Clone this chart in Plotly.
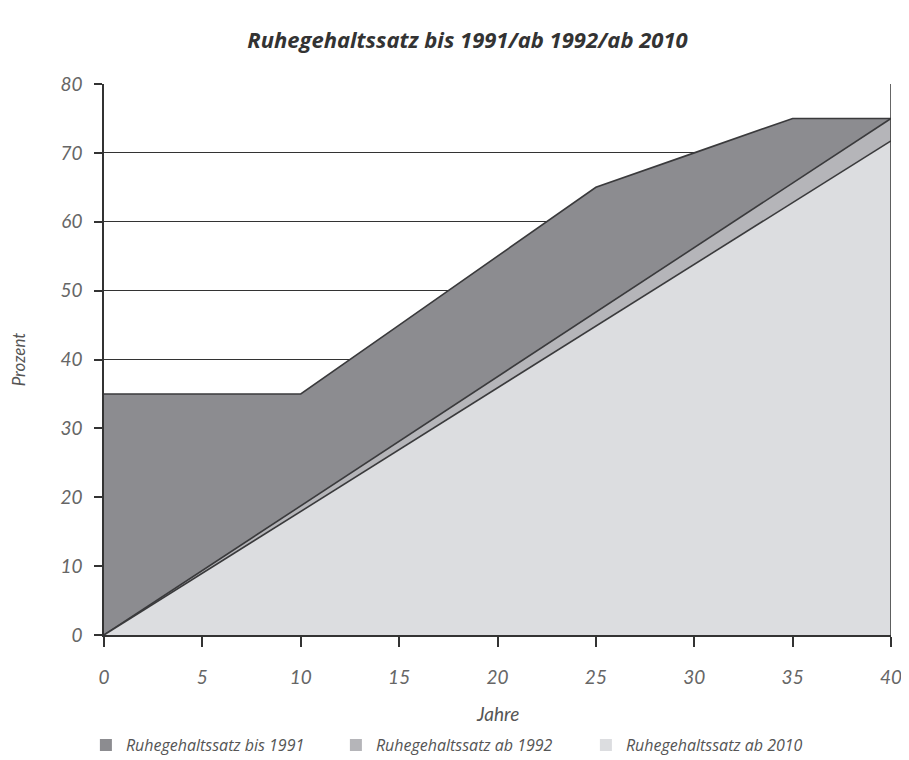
import plotly.graph_objects as go

jahre = [0, 5, 10, 15, 20, 25, 30, 35, 40]
bis_1991 = [35, 35, 35, 45, 55, 65, 70, 75, 75]
ab_1992 = [0, 9.375, 18.75, 28.125, 37.5, 46.875, 56.25, 65.625, 75]
ab_2010 = [0, 8.97, 17.94, 26.91, 35.88, 44.84, 53.81, 62.78, 71.75]

series = [
    ("Ruhegehaltssatz bis 1991", bis_1991, "#8c8c90"),
    ("Ruhegehaltssatz ab 1992", ab_1992, "#b5b5b9"),
    ("Ruhegehaltssatz ab 2010", ab_2010, "#dcdde0"),
]

font_fam = "Lato, 'Open Sans', sans-serif"
wide_fam = "'Open Sans', Lato, sans-serif"

fig = go.Figure()
for name, vals, col in series:
    fig.add_trace(go.Scatter(
        x=jahre, y=vals, name=name, mode="lines",
        fill="tozeroy", fillcolor=col, showlegend=False,
        line=dict(color="#3a3a3c", width=1.6),
    ))
# legend swatches as square boxes
for name, vals, col in series:
    fig.add_trace(go.Bar(x=[None], y=[None], name=name,
                         marker=dict(color=col, line=dict(width=0))))

fig.update_layout(
    width=901, height=752,
    paper_bgcolor="white", plot_bgcolor="white",
    margin=dict(l=96, r=18, t=76, b=125, autoexpand=False),
    title=dict(text="Ruhegehaltssatz bis 1991/ab 1992/ab 2010",
               x=0.51, xanchor="center", y=0.957, yanchor="middle",
               font=dict(family=wide_fam, size=22, color="#333333",
                         style="italic", weight="bold")),
    font=dict(family=font_fam, color="#555555", size=15),
    showlegend=True,
    legend=dict(orientation="h", x=-0.023, xanchor="left", y=-0.2, yanchor="middle",
                font=dict(family=wide_fam, size=16, color="#555555", style="italic"),
                entrywidth=205, entrywidthmode="pixels",
                itemwidth=30, traceorder="normal", tracegroupgap=0),
    annotations=[dict(text="Jahre", xref="paper", yref="paper", x=0.5, y=-0.143,
                      xanchor="center", yanchor="middle", showarrow=False,
                      font=dict(family=font_fam, size=19, color="#555555", style="italic"))],
)

fig.update_xaxes(
    range=[0, 40], tickvals=jahre, ticks="outside", ticklen=10, tickcolor="#333333",
    tickwidth=1.5, showline=True, linecolor="#333333", linewidth=1.5, mirror=False,
    showgrid=False, zeroline=False, ticklabelstandoff=14,
    tickfont=dict(family=font_fam, size=19, color="#666666", style="italic"),
)
fig.update_yaxes(
    range=[0, 80], tickvals=[0, 10, 20, 30, 40, 50, 60, 70, 80], ticks="outside",
    ticklen=8, tickcolor="#333333", tickwidth=1.5,
    showline=True, linecolor="#333333", linewidth=1.5,
    showgrid=True, gridcolor="#333333", gridwidth=1.2, zeroline=False,
    ticklabelstandoff=8,
    tickfont=dict(family=font_fam, size=19, color="#666666", style="italic"),
    title=dict(text="Prozent", standoff=30,
               font=dict(family=font_fam, size=17, color="#555555", style="italic")),
)

# right border line
fig.add_shape(type="line", xref="x", yref="paper", x0=40, x1=40, y0=0, y1=1,
              line=dict(color="#333333", width=1.5), layer="above")

fig.write_html("out.html")
